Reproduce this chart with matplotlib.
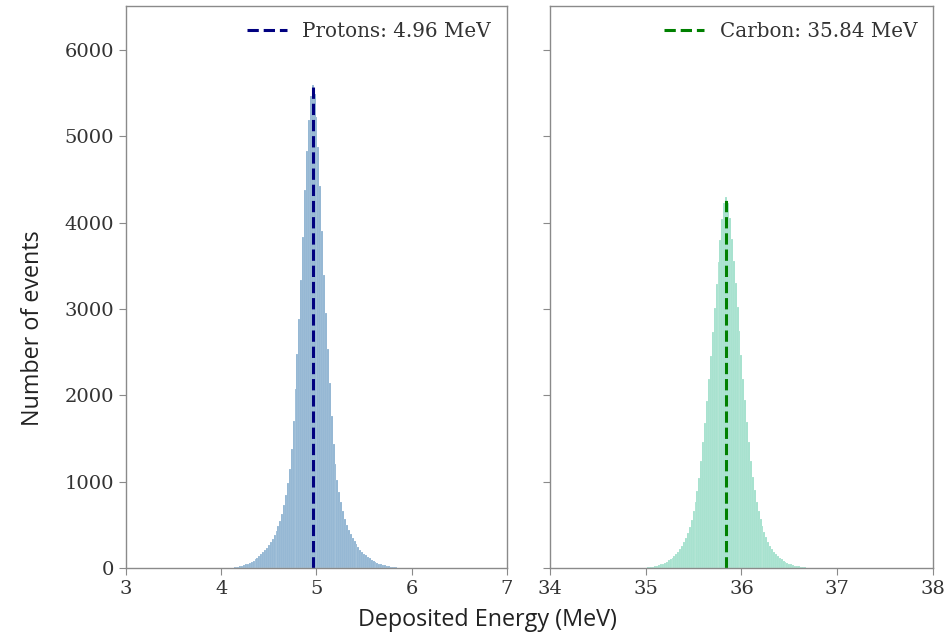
import numpy as np
import matplotlib
matplotlib.use("Agg")
import matplotlib.pyplot as plt

BIN_W = 0.02

# Protons: bin centres 4.10 .. 5.90 (step 0.02), counts
PROTON_START = 4.10
PROTON_COUNTS = [
    3, 5, 8, 11, 15, 20, 26, 33, 41, 50,
    60, 72, 86, 101, 118, 137, 158, 180, 205, 233,
    264, 298, 337, 380, 428, 482, 548, 630, 728, 846,
    985, 1150, 1380, 1700, 2080, 2480, 2890, 3340, 3840, 4380,
    4830, 5190, 5470, 5600, 5490, 5230, 4880, 4430, 3900, 3400,
    2950, 2540, 2140, 1760, 1440, 1200, 1020, 880, 760, 660,
    572, 500, 442, 392, 348, 308, 273, 242, 214, 189,
    166, 146, 128, 112, 97, 84, 72, 61, 52, 44,
    37, 30, 25, 20, 16, 12, 9, 6, 4, 2, 1,
]
PROTON_MEAN = 4.96

# Carbon: bin centres 35.00 .. 36.70 (step 0.02)
CARBON_START = 35.00
CARBON_COUNTS = [
    4, 7, 10, 13, 17, 22, 28, 35, 43, 52,
    63, 75, 89, 104, 121, 141, 164, 191, 222, 259,
    302, 352, 411, 480, 560, 655, 765, 895, 1045, 1235,
    1455, 1685, 1935, 2185, 2455, 2735, 3015, 3295, 3545, 3795,
    4045, 4225, 4300, 4235, 4060, 3810, 3560, 3305, 3025, 2745,
    2465, 2195, 1945, 1695, 1465, 1240, 1050, 900, 770, 660,
    565, 484, 414, 354, 303, 259, 221, 189, 162, 138,
    118, 100, 85, 72, 61, 51, 42, 35, 29, 23,
    18, 14, 10, 7, 4, 2,
]
CARBON_MEAN = 35.84

plt.rcParams["font.family"] = "DejaVu Serif"
GRAY = "#8a8a8a"
TXT = "#333333"


def panel(ax, start, counts, mean, fill, line, label, xlim):
    counts = np.array(counts, dtype=float)
    centres = start + BIN_W * np.arange(len(counts))
    ax.bar(centres, counts, width=BIN_W, color=fill, alpha=0.6,
           edgecolor="white", linewidth=0.15)
    ax.vlines(mean, 0, counts.max(), colors=line, linestyles="--",
              linewidth=2.2, label=label)
    ax.set_xlim(*xlim)
    ax.set_ylim(0, 6510)
    ax.set_xticks(np.arange(xlim[0], xlim[1] + 1, 1))
    ax.tick_params(colors=GRAY, labelcolor=TXT, labelsize=14, length=5)
    for s in ax.spines.values():
        s.set_color(GRAY)
        s.set_linewidth(1.0)
    leg = ax.legend(loc="upper right", frameon=False, fontsize=14.3,
                    handlelength=2.0, borderaxespad=0.4)
    for t in leg.get_texts():
        t.set_color(TXT)


fig = plt.figure(figsize=(9.51, 6.37), dpi=100)
ax1 = fig.add_axes([0.1325, 0.1083, 0.4006, 0.882])
ax2 = fig.add_axes([0.5783, 0.1083, 0.4027, 0.882], sharey=ax1)

panel(ax1, PROTON_START, PROTON_COUNTS, PROTON_MEAN, "steelblue", "navy",
      f"Protons: {PROTON_MEAN:.2f} MeV", (3, 7))
panel(ax2, CARBON_START, CARBON_COUNTS, CARBON_MEAN, "mediumaquamarine", "green",
      f"Carbon: {CARBON_MEAN:.2f} MeV", (34, 38))
ax1.set_yticks(np.arange(0, 6001, 1000))
plt.setp(ax2.get_yticklabels(), visible=False)

fig.text(0.035, 0.485, "Number of events", rotation=90, va="center", ha="center",
         family="Open Sans", fontsize=16.8, color="#222222")
fig.text(0.513, 0.027, "Deposited Energy (MeV)", va="center", ha="center",
         family="Open Sans", fontsize=16.8, color="#222222")

fig.savefig("out.png", dpi=100)
